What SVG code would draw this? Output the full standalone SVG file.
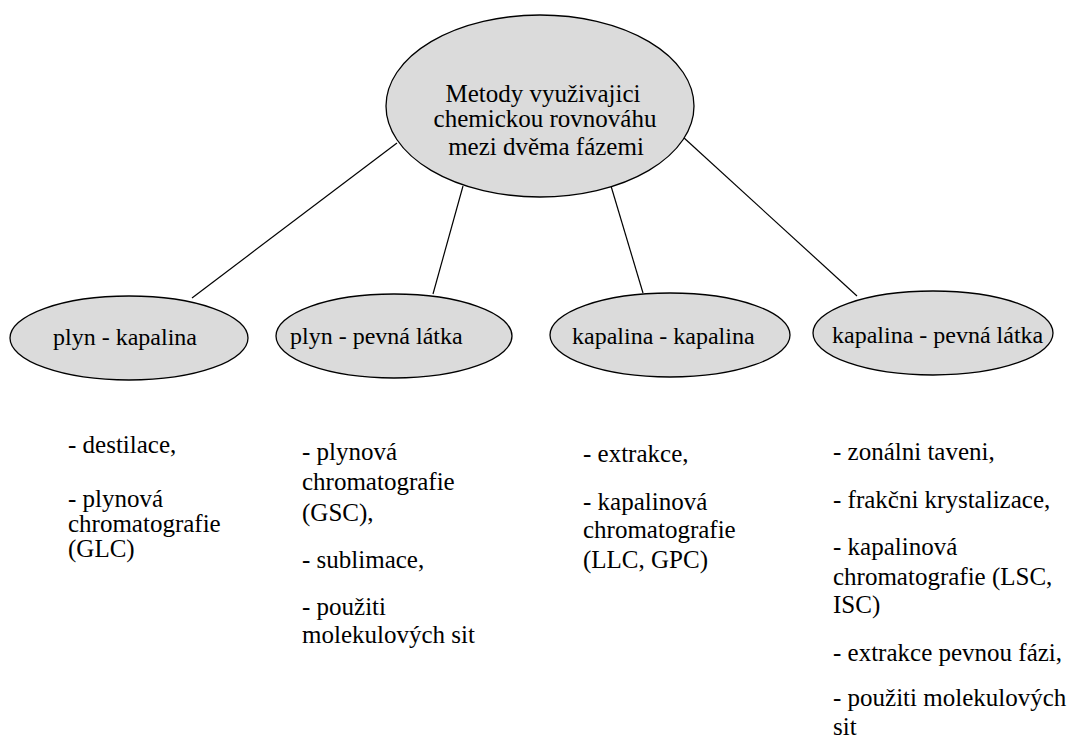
<svg xmlns="http://www.w3.org/2000/svg" width="1075" height="740" viewBox="0 0 1075 740" font-family="'Liberation Serif', 'Tinos', 'DejaVu Serif', 'Times New Roman', serif">
<style>
.node{fill:#dbdbdb;stroke:#000;stroke-width:1.3}
.conn line{stroke:#000;stroke-width:1.2}
text{font-family:'Liberation Serif','Tinos','DejaVu Serif','Times New Roman',serif;font-size:24px;fill:#000}
.mid{text-anchor:middle;font-size:25px}
.list text{font-size:25px}
</style>
<rect width="1075" height="740" fill="#fff"/>
<g class="conn" id="connectors">
<line x1="397" y1="143" x2="192" y2="298"/>
<line x1="463" y1="186" x2="433" y2="294"/>
<line x1="611" y1="186" x2="643" y2="293"/>
<line x1="683" y1="137" x2="857" y2="296"/>
</g>
<g id="root">
<ellipse class="node" cx="540" cy="106" rx="154" ry="91"/>
<text class="mid" x="543" y="102">Metody využivajici</text>
<text class="mid" x="545" y="127">chemickou rovnováhu</text>
<text class="mid" x="546" y="155">mezi dvěma fázemi</text>
</g>
<g id="n1">
<ellipse class="node" cx="129" cy="338" rx="119" ry="42"/>
<text x="53" y="345">plyn - kapalina</text>
</g>
<g id="n2">
<ellipse class="node" cx="394" cy="336" rx="118" ry="42"/>
<text x="290" y="344">plyn - pevná látka</text>
</g>
<g id="n3">
<ellipse class="node" cx="670" cy="335" rx="120" ry="42"/>
<text x="572" y="344">kapalina - kapalina</text>
</g>
<g id="n4">
<ellipse class="node" cx="933" cy="333" rx="120" ry="42"/>
<text x="832" y="343">kapalina - pevná látka</text>
</g>
<g id="list1" class="list">
<text x="68" y="453">- destilace,</text>
<text x="68" y="507">- plynová</text>
<text x="68" y="532">chromatografie</text>
<text x="68" y="557">(GLC)</text>
</g>
<g id="list2" class="list">
<text x="302" y="460">- plynová</text>
<text x="302" y="490">chromatografie</text>
<text x="302" y="521">(GSC),</text>
<text x="302" y="568">- sublimace,</text>
<text x="302" y="615">- použiti</text>
<text x="302" y="643">molekulových sit</text>
</g>
<g id="list3" class="list">
<text x="583" y="462">- extrakce,</text>
<text x="583" y="510">- kapalinová</text>
<text x="583" y="538">chromatografie</text>
<text x="583" y="568">(LLC, GPC)</text>
</g>
<g id="list4" class="list">
<text x="833" y="460">- zonálni taveni,</text>
<text x="833" y="508">- frakčni krystalizace,</text>
<text x="833" y="555">- kapalinová</text>
<text x="833" y="585">chromatografie (LSC,</text>
<text x="833" y="613">ISC)</text>
<text x="833" y="661">- extrakce pevnou fázi,</text>
<text x="833" y="706">- použiti molekulových</text>
<text x="833" y="735">sit</text>
</g>
</svg>
